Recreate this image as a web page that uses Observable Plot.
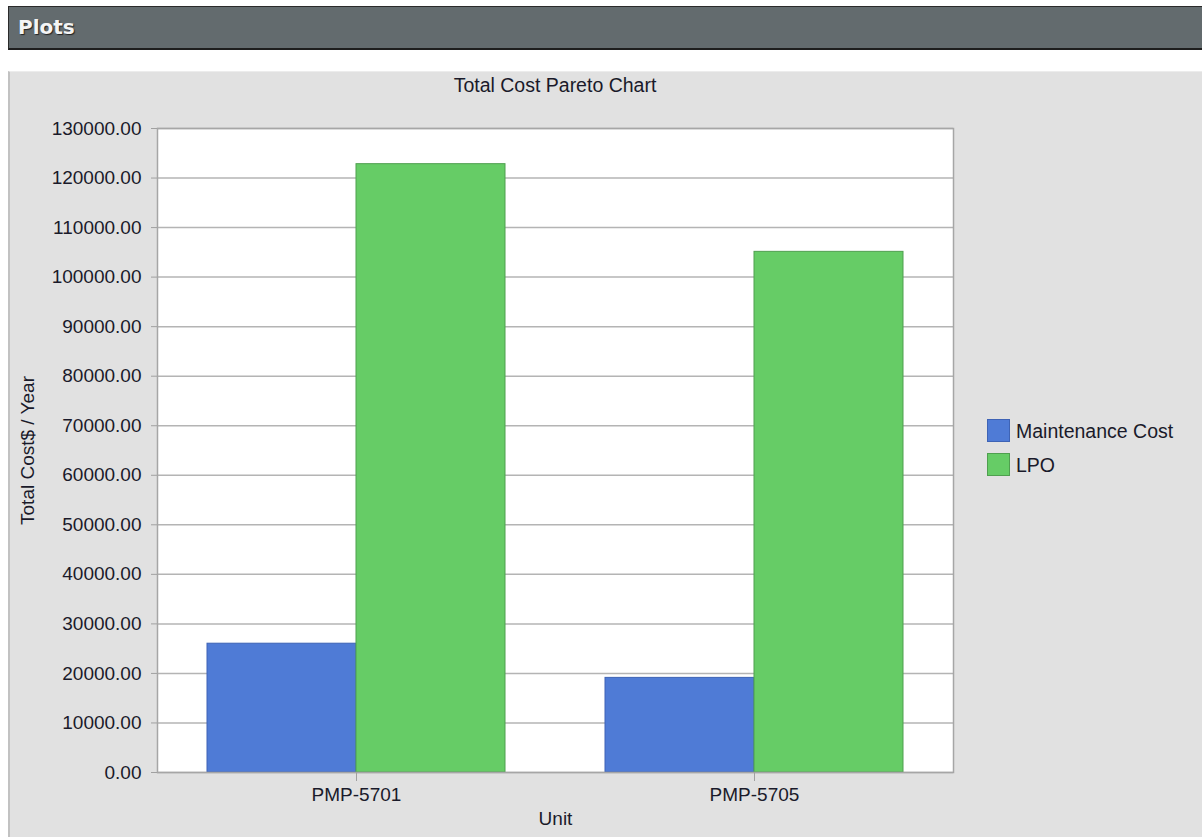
<!DOCTYPE html>
<html>
<head>
<meta charset="utf-8">
<script src="https://cdn.jsdelivr.net/npm/d3@7"></script>
<script src="https://cdn.jsdelivr.net/npm/@observablehq/plot@0.6"></script>
<style>
  html, body { margin: 0; padding: 0; background: #ffffff; width: 1202px; height: 837px; overflow: hidden; }
  body { position: relative; font-family: "Liberation Sans", Arial, sans-serif; color: #1a1a1a; }
  #header { position: absolute; left: 8px; top: 6px; width: 1200px; height: 41px; background: #636b6e;
            border-top: 1px solid #2a2a2a; border-left: 1px solid #2a2a2a; border-bottom: 2px solid #1e1e1e; }
  #header span { position: absolute; left: 9px; top: 8px; font-family: "DejaVu Sans", Verdana, sans-serif; font-weight: bold;
            font-size: 20px; color: #f4f4f4; text-shadow: 1px 1px 1px #222; }
  #panel { position: absolute; left: 8px; top: 71px; width: 1200px; height: 780px; background: #e1e1e1;
           border-left: 2px solid #c2c2c2; border-top: 1px solid #ececec; }
  #title { position: absolute; left: 355px; width: 400px; top: 74px; text-align: center; font-size: 19.5px; line-height: 22px; color: #1a1a2a; }
  #chart { position: absolute; left: 0; top: 100px; }
  #legend { position: absolute; left: 987px; top: 419px; font-size: 19.5px; color: #1a1a2a; }
  .row { position: relative; height: 34px; }
  .sw { position: absolute; left: 0; top: 0; width: 21px; height: 21px; border: 1px solid; }
  .lb { position: absolute; left: 29px; top: 1px; line-height: 22px; white-space: nowrap; }
</style>
</head>
<body>
<div id="header"><span>Plots</span></div>
<div id="panel"></div>
<div id="title">Total Cost Pareto Chart</div>
<div id="chart"></div>
<div id="legend"></div>
<script>
const units = ["PMP-5701", "PMP-5705"];
const series = ["Maintenance Cost", "LPO"];
const maintenanceCost = [26000, 19100];
const lpo = [122800, 105100];
const yTicks = [0, 10000, 20000, 30000, 40000, 50000, 60000, 70000, 80000, 90000, 100000, 110000, 120000, 130000];
const seriesFill = ["#4f7bd6", "#66cc66"];
const seriesStroke = ["#3e63b5", "#4f9f4f"];

const valuesBySeries = [maintenanceCost, lpo];
const data = [];
series.forEach((s, si) => units.forEach((u, ui) => data.push({unit: u, series: s, value: valuesBySeries[si][ui]})));

const chart = Plot.plot({
  width: 970,
  height: 737,
  marginLeft: 157,
  marginRight: 17,
  marginTop: 28,
  marginBottom: 65,
  style: {background: "transparent", fontFamily: "'Liberation Sans', Arial, sans-serif", fontSize: "19px", color: "#1a1a2a", overflow: "visible"},
  fx: {domain: units, padding: 0},
  x: {domain: series, paddingInner: 0, paddingOuter: 0.327, axis: null},
  y: {domain: [0, 130000]},
  marks: [
    Plot.frame({facet: "super", fill: "#ffffff", stroke: "none"}),
    Plot.gridY(yTicks, {stroke: "#b4b4b4", strokeOpacity: 1, strokeWidth: 1.5}),
    ...series.map((s, i) => Plot.barY(data.filter(d => d.series === s), {
      fx: "unit", x: "series", y: "value", fill: seriesFill[i], stroke: seriesStroke[i], strokeWidth: 1, inset: 0
    })),
    Plot.frame({facet: "super", stroke: "#a6a6a6", strokeWidth: 1.5}),
    Plot.axisY(yTicks, {tickFormat: d3.format(".2f"), tickSize: 6, tickPadding: 10, stroke: "#a0a0a0",
      label: "Total Cost$ / Year", labelAnchor: "center", labelOffset: 137, labelArrow: "none"}),
    Plot.axisFx({anchor: "bottom", tickSize: 9, tickPadding: 6, stroke: "#a0a0a0",
      label: "Unit", labelAnchor: "center", labelOffset: 52, labelArrow: "none"})
  ]
});
document.getElementById("chart").appendChild(chart);

const legend = document.getElementById("legend");
series.forEach((s, i) => {
  const row = document.createElement("div");
  row.className = "row";
  row.innerHTML = `<div class="sw" style="background:${seriesFill[i]};border-color:${seriesStroke[i]}"></div><div class="lb">${s}</div>`;
  legend.appendChild(row);
});
</script>
</body>
</html>
